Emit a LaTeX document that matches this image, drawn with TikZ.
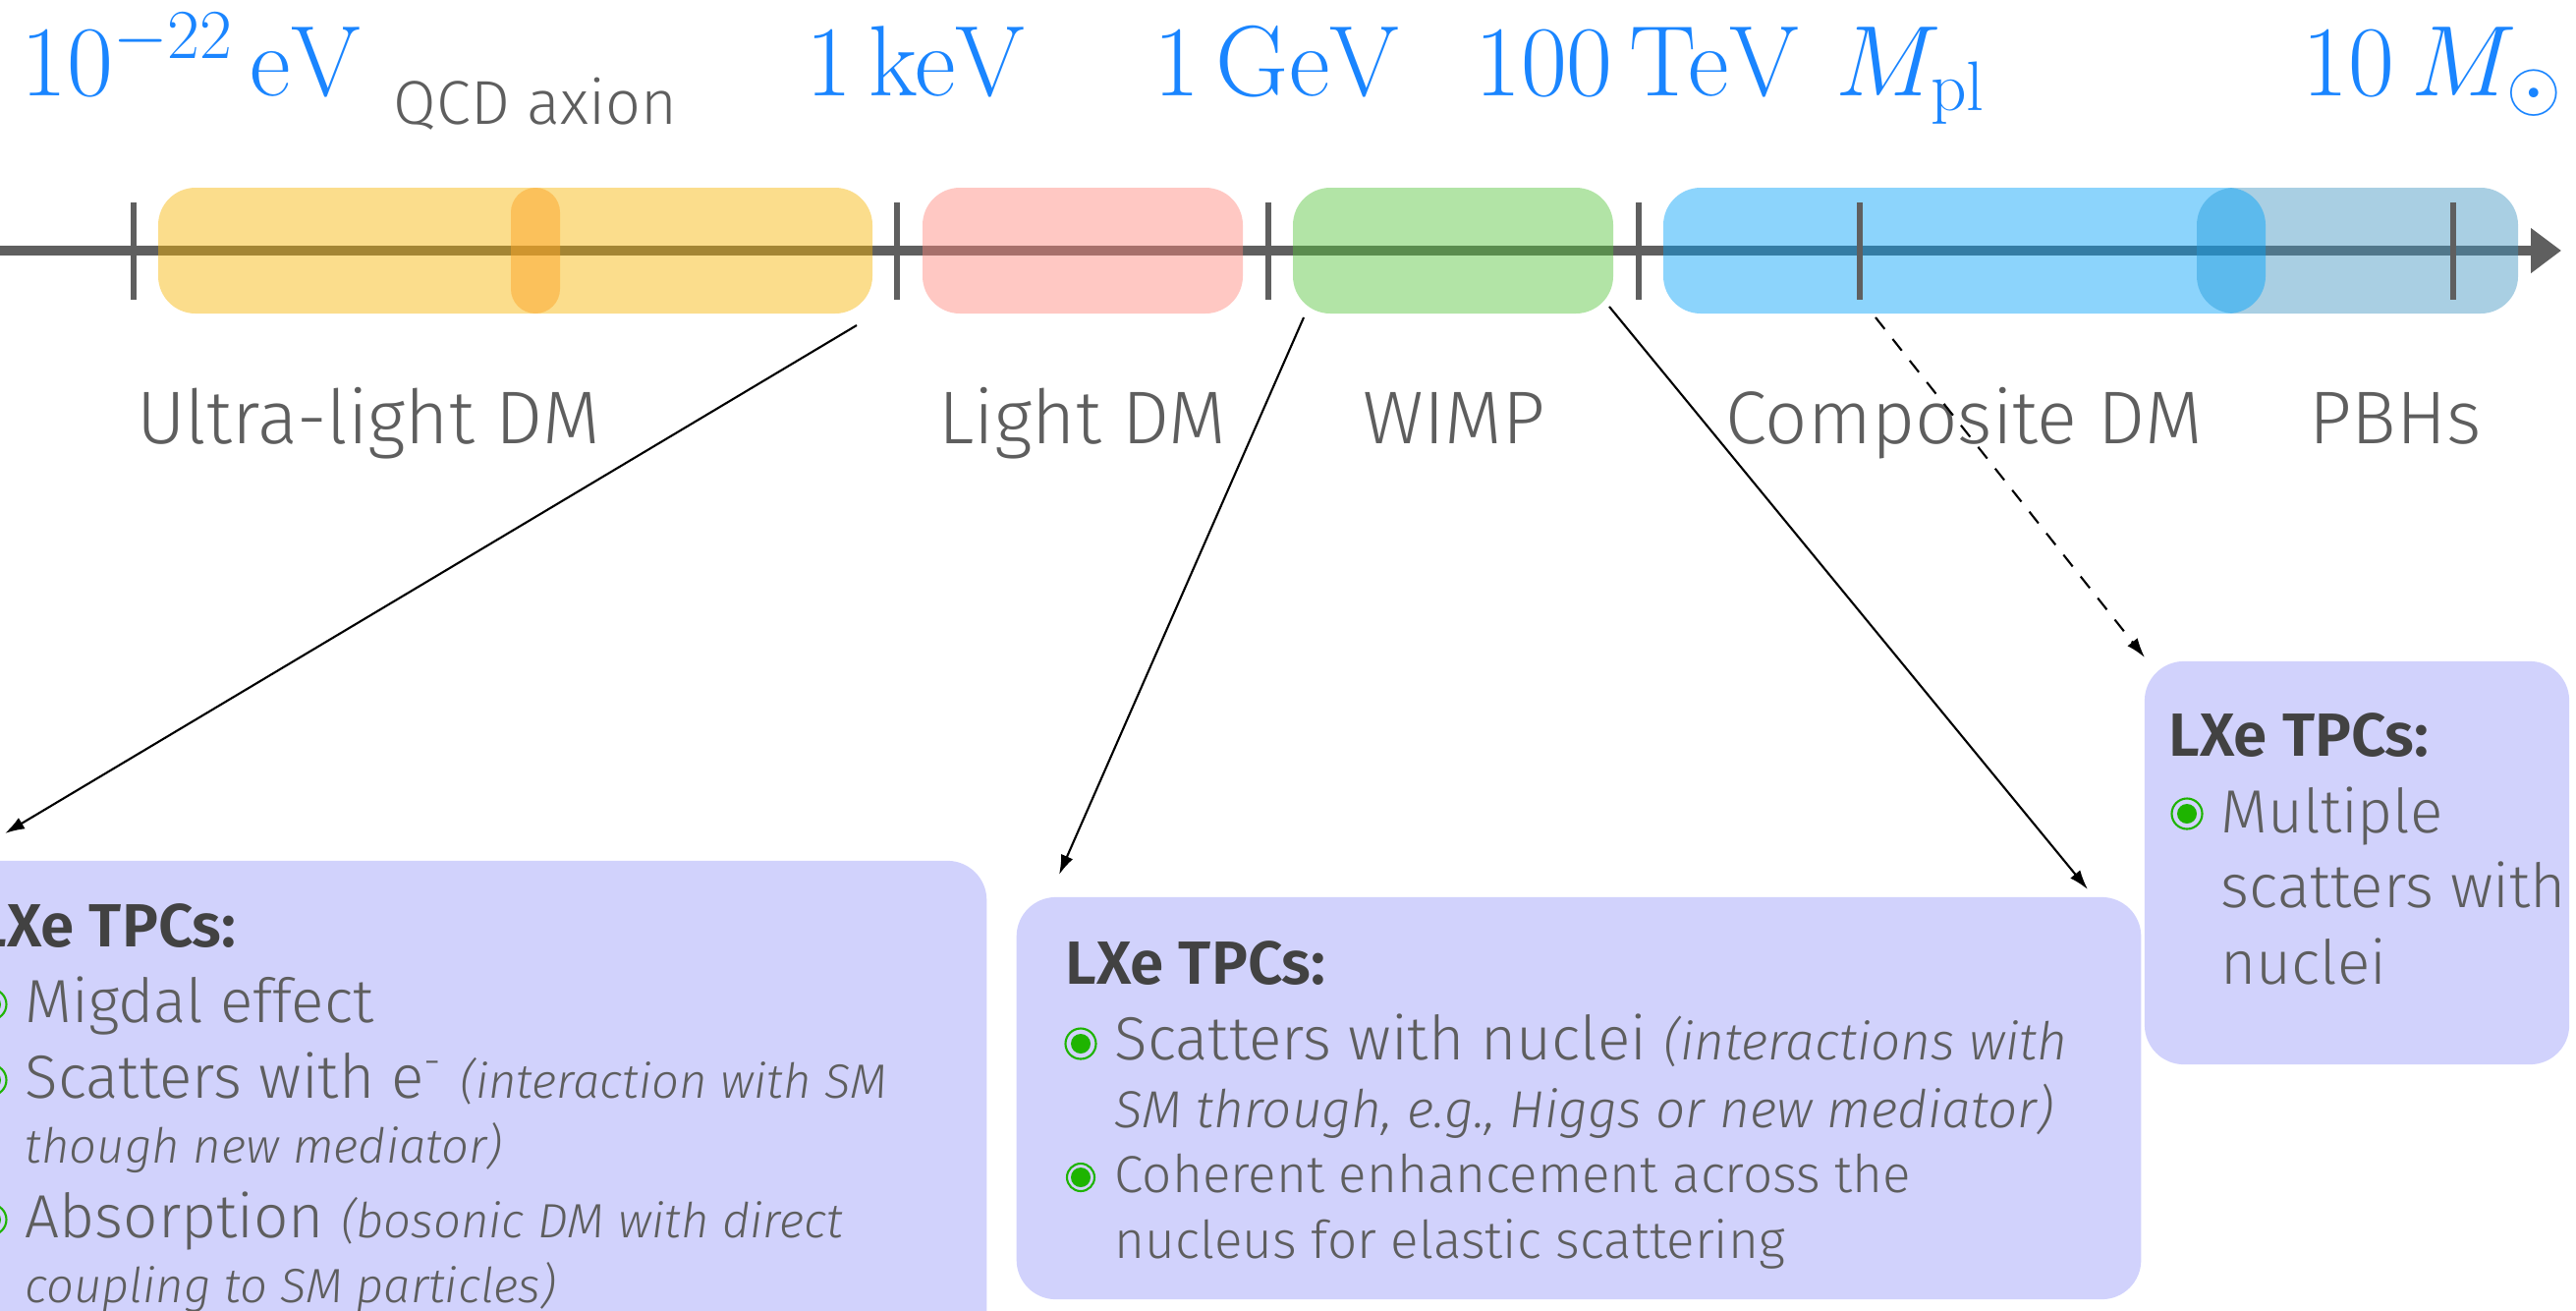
\RequirePackage{fix-cm}
\documentclass[tikz,border=0pt]{standalone}
\usepackage[no-math]{fontspec}
\setmainfont{Fira Sans Light}[BoldFont={Fira Sans SemiBold}, ItalicFont={Fira Sans Light Italic}]
\usetikzlibrary{arrows.meta}
\definecolor{labblue}{RGB}{26,133,255}
\definecolor{txtgrey}{RGB}{94,94,94}
\definecolor{headgrey}{RGB}{66,66,66}
\definecolor{axisgrey}{RGB}{95,95,95}
\definecolor{boxfill}{RGB}{209,210,252}
\definecolor{bgreen}{RGB}{30,180,0}
\definecolor{cyellow}{RGB}{247,180,0}
\definecolor{corange}{RGB}{251,165,42}
\definecolor{cpink}{RGB}{255,133,122}
\definecolor{cgreen}{RGB}{84,196,58}
\definecolor{cblue}{RGB}{0,160,249}
\definecolor{cpbh}{RGB}{64,149,193}
\newcommand\pxfont[1]{\fontsize{\fpeval{#1*0.28453}pt}{\fpeval{#1*0.34}pt}\selectfont}
\tikzset{
  blab/.style={inner sep=0, anchor=base, text=labblue, font=\pxfont{102}},
  dmlab/.style={inner sep=0, anchor=base, text=txtgrey, font=\pxfont{76}},
  band/.style={fill opacity=0.45, rounded corners=0.38cm},
  tickmark/.style={draw=axisgrey, line width=1.5pt},
  infobox/.style={fill=boxfill, rounded corners=0.4cm, inner sep=0},
  head/.style={inner sep=0, anchor=base west, text=headgrey, font=\pxfont{62}\bfseries},
  line/.style={inner sep=0, anchor=base west, text=txtgrey, font=\pxfont{62}},
  bul/.style={circle, draw=bgreen, line width=0.6pt, inner sep=0, minimum size=0.31cm,
    path picture={\fill[bgreen] (path picture bounding box.center) circle (0.1cm);}},
  conn/.style={draw=black, line width=0.6pt, -{Latex[length=0.2cm,width=0.13cm]}},
}
\newcommand\itsm[1]{{\pxfont{49}\itshape #1}}
\newcommand\itmd[1]{{\pxfont{53}\itshape #1}}
\begin{document}
\begin{tikzpicture}[x=0.01cm,y=-0.01cm]
\useasboundingbox (0,0) rectangle (2622,1333);
\clip (0,0) rectangle (2622,1333);
% axis
\draw[axisgrey, line width=2.85pt, -{Triangle[length=0.31cm,width=0.44cm]}] (0,255) -- (2607,255);
% bands
\fill[band, cyellow] (161,191) rectangle (888,319);
\fill[corange, fill opacity=0.5, rounded corners=0.25cm] (520,191) rectangle (570,319);
\fill[band, cpink] (939,191) rectangle (1265,319);
\fill[band, cgreen] (1316,191) rectangle (1642,319);
\fill[band, cpbh] (2236,191) rectangle (2563,319);
\fill[band, cblue] (1693,191) rectangle (2306,319);
% ticks
\foreach \tx in {136,913,1291,1668,1893,2497}
  \draw[tickmark] (\tx,206) -- (\tx,305);
% top labels
\node[blab] (l1) at (195,97) {$10^{-22}\,\mathrm{eV}$};
\node[inner sep=0, anchor=base, text=txtgrey, font=\pxfont{63}] (qcd) at (545,126) {QCD axion};
\node[blab] (l2) at (933,97) {$1\,\mathrm{keV}$};
\node[blab] (l3) at (1300,97) {$1\,\mathrm{GeV}$};
\node[blab] (l4) at (1667,97) {$100\,\mathrm{TeV}$};
\node[blab] (l5) at (1945,97) {$M_{\mathrm{pl}}$};
\node[blab] (l6) at (2476,97) {$10\,M_\odot$};
% DM labels
\node[dmlab] (d1) at (375,451) {Ultra-light DM};
\node[dmlab] (d2) at (1102,451) {Light DM};
\node[dmlab] (d3) at (1480,451) {WIMP};
\node[dmlab] (d4) at (1999,451) {Composite DM};
\node[dmlab] (d5) at (2438,451) {PBHs};
% info boxes
\node[infobox, minimum width=10.64cm, minimum height=5.24cm] (b1) at (472,1138) {};
\node[infobox, minimum width=11.44cm, minimum height=4.09cm] (b2) at (1607,1117.5) {};
\node[infobox, minimum width=4.32cm, minimum height=4.10cm] (b3) at (2399,878) {};
% box 1 text
\node[head] (h1) at (-25,963) {LXe TPCs:};
\node[bul] (u11) at (-9,1022) {};
\node[line] (t11) at (25,1040) {Migdal effect};
\node[bul] (u12) at (-9,1099) {};
\node[line] (t12) at (25,1117) {Scatters with e\textsuperscript{-} \itsm{(interaction with SM}};
\node[line] (t13) at (25,1183) {\itsm{though new mediator)}};
\node[bul] (u13) at (-9,1241) {};
\node[line] (t14) at (25,1259) {Absorption \itsm{(bosonic DM with direct}};
\node[line] (t15) at (25,1325) {\itsm{coupling to SM particles)}};
% box 2 text
\node[head] (h2) at (1084,1001) {LXe TPCs:};
\node[bul] (u21) at (1100,1062) {};
\node[line] (t21) at (1134,1078) {Scatters with nuclei \itmd{(interactions with}};
\node[line] (t22) at (1134,1147) {\itmd{SM through, e.g., Higgs or new mediator)}};
\node[bul, minimum size=0.28cm] (u22) at (1100,1198) {};
\node[line, font=\pxfont{53}] (t23) at (1134,1213) {Coherent enhancement across the};
\node[line, font=\pxfont{53}] (t24) at (1134,1280) {nucleus for elastic scattering};
% box 3 text
\node[head] (h3) at (2207,769) {LXe TPCs:};
\node[bul] (u31) at (2226,828) {};
\node[line] (t31) at (2260,847) {Multiple};
\node[line] (t32) at (2260,923) {scatters with};
\node[line] (t33) at (2260,1001) {nuclei};
% connectors
\coordinate (s1) at (872,331);
\coordinate (e1) at (5,848);
\coordinate (s2) at (1327,323);
\coordinate (e2) at (1078,890);
\coordinate (s3) at (1638,312);
\coordinate (e3) at (2125,905);
\coordinate (s4) at (1909,323);
\coordinate (e4) at (2183,669);
\draw[conn] (s1) -- (e1);
\draw[conn] (s2) -- (e2);
\draw[conn] (s3) -- (e3);
\draw[conn, dash pattern=on 0.15cm off 0.13cm] (s4) -- (e4);
\end{tikzpicture}
\end{document}
